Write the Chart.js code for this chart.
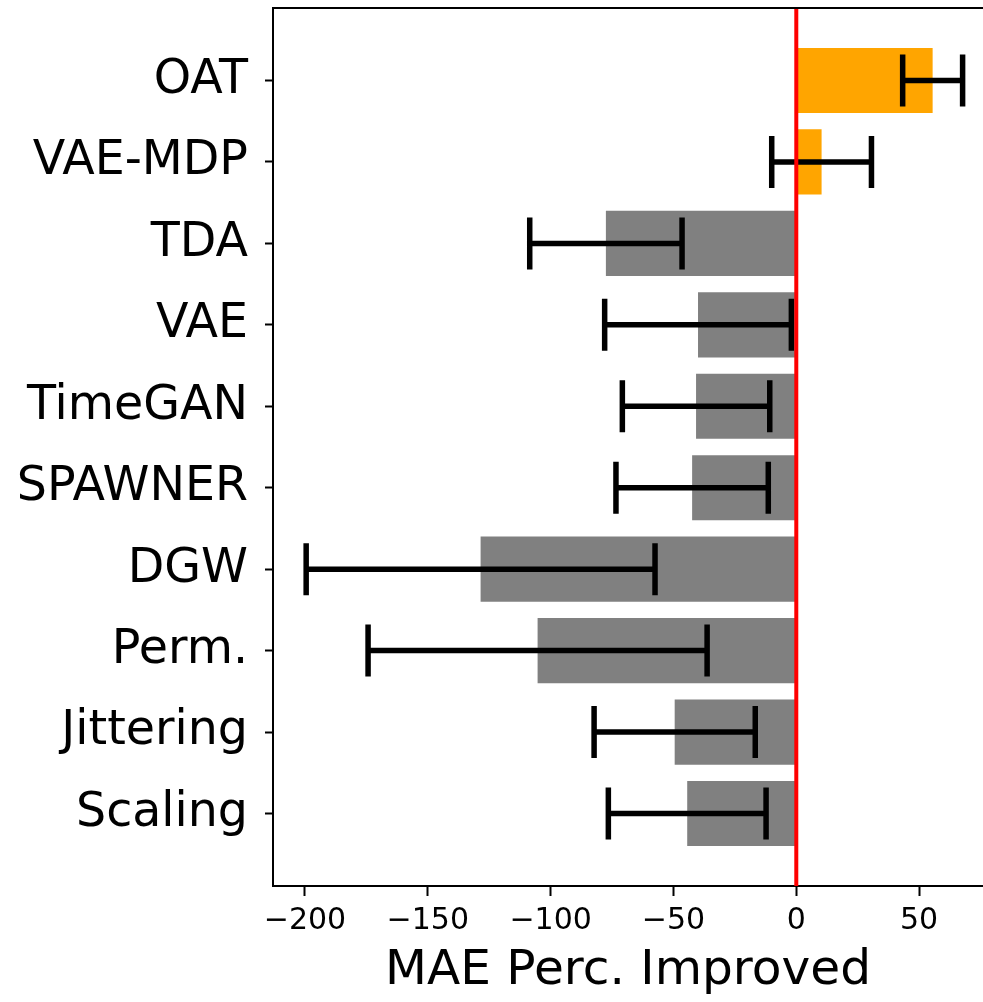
<!DOCTYPE html>
<html lang="en">
<head>
  <meta charset="UTF-8" />
  <title>MAE Perc. Improved</title>
  <script src="https://cdn.jsdelivr.net/npm/chart.js"></script>
  <style>
    html, body { margin: 0; padding: 0; background: #fff; }
    #wrap { width: 983px; height: 1002px; }
  </style>
</head>
<body>
<div id="wrap"><canvas id="chart"></canvas></div>
<script>
const categories = ["OAT", "VAE-MDP", "TDA", "VAE", "TimeGAN", "SPAWNER", "DGW", "Perm.", "Jittering", "Scaling"];
const values = [55.5, 10.3, -77.5, -40, -40.8, -42.4, -128.5, -105.3, -49.5, -44.4];
const errors = [12.2, 20.3, 31, 38, 30, 31, 71, 69, 32.8, 32.1];
const xTicks = [-200, -150, -100, -50, 0, 50];

// error bars, zero line and the top spine
const overlay = {
  id: "overlay",
  afterDatasetsDraw(chart) {
    const { ctx, chartArea, scales: { x, y } } = chart;
    ctx.save();
    ctx.strokeStyle = "#000";
    ctx.lineWidth = 5.5;
    values.forEach((v, i) => {
      const yc = y.getPixelForValue(i);
      const lo = x.getPixelForValue(v - errors[i]);
      const hi = x.getPixelForValue(v + errors[i]);
      ctx.beginPath();
      ctx.moveTo(lo, yc); ctx.lineTo(hi, yc);
      ctx.moveTo(lo, yc - 26); ctx.lineTo(lo, yc + 26);
      ctx.moveTo(hi, yc - 26); ctx.lineTo(hi, yc + 26);
      ctx.stroke();
    });
    const x0 = x.getPixelForValue(0);
    ctx.strokeStyle = "#ff0000";
    ctx.lineWidth = 4;
    ctx.beginPath();
    ctx.moveTo(x0, chartArea.top); ctx.lineTo(x0, chartArea.bottom);
    ctx.stroke();
    ctx.strokeStyle = "#000";
    ctx.lineWidth = 2;
    ctx.beginPath();
    ctx.moveTo(chartArea.left - 1, chartArea.top); ctx.lineTo(chartArea.right, chartArea.top);
    ctx.stroke();
    ctx.restore();
  }
};

Chart.defaults.font.family = "'DejaVu Sans', sans-serif";
Chart.defaults.color = "#000";

new Chart(document.getElementById("chart"), {
  type: "bar",
  data: {
    datasets: [{
      data: values.map((v, i) => ({ x: v, y: i })),
      backgroundColor: values.map(v => v > 0 ? "#ffa500" : "#808080"),
      borderWidth: 0,
      categoryPercentage: 0.8,
      barPercentage: 1.0
    }]
  },
  options: {
    indexAxis: "y",
    responsive: true,
    maintainAspectRatio: false,
    animation: false,
    layout: { padding: { top: 8, right: 0, bottom: 0, left: 0 } },
    plugins: { legend: { display: false }, tooltip: { enabled: false } },
    scales: {
      x: {
        type: "linear",
        min: -213,
        max: 76,
        afterBuildTicks: s => { s.ticks = xTicks.map(v => ({ value: v })); },
        afterFit: s => { s.height = 116; s.paddingLeft = 0; s.paddingRight = 0; },
        ticks: {
          font: { size: 30 },
          padding: 7,
          callback: v => v < 0 ? "\u2212" + Math.abs(v) : String(v)
        },
        grid: { drawOnChartArea: false, offset: false, tickLength: 10, tickWidth: 2, tickColor: "#000", color: "#000" },
        border: { display: true, color: "#000", width: 2 },
        title: { display: true, text: "MAE Perc. Improved", font: { size: 48.6 }, padding: { top: 5, bottom: 1 } }
      },
      y: {
        type: "linear",
        reverse: true,
        offset: false,
        min: -0.89,
        max: 9.89,
        afterBuildTicks: s => { s.ticks = categories.map((c, i) => ({ value: i })); },
        afterFit: s => { s.width = 273; s.paddingTop = 0; s.paddingBottom = 0; },
        ticks: {
          font: { size: 47.5 },
          padding: 17,
          callback: v => categories[v]
        },
        grid: { drawOnChartArea: false, offset: false, tickLength: 8, tickWidth: 2, tickColor: "#000", color: "#000" },
        border: { display: true, color: "#000", width: 2 }
      }
    }
  },
  plugins: [overlay]
});
</script>
</body>
</html>
